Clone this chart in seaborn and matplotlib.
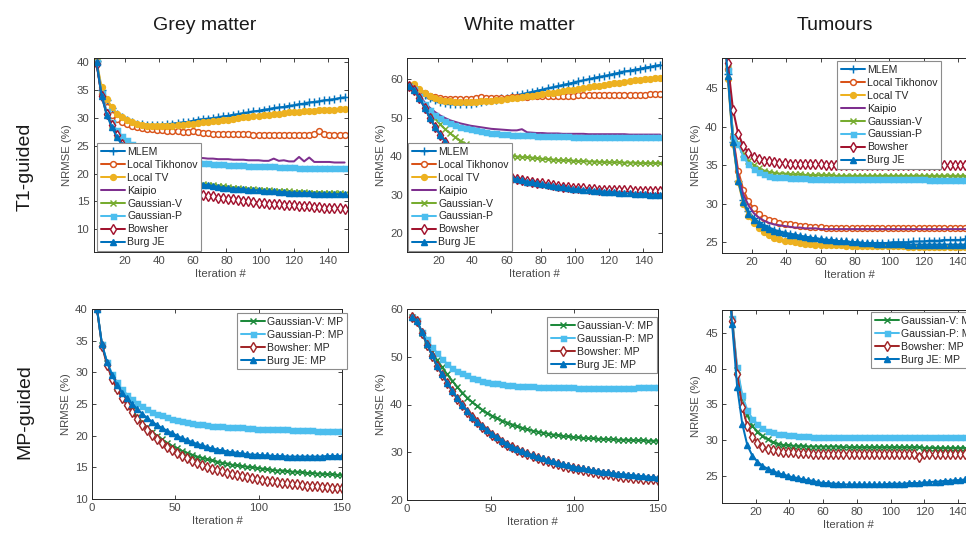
import matplotlib
matplotlib.use("Agg")
import matplotlib.pyplot as plt
import seaborn as sns
import pandas as pd

# ---------------- data ----------------
ITER = list(range(3, 151, 3))

# Grey matter, T1-guided
GM_MLEM = [40.2, 35.0, 33.2, 31.8, 30.8, 30.2, 29.7, 29.3, 29.0, 28.9,
           28.8, 28.8, 28.8, 28.8, 28.9, 29.0, 29.1, 29.2, 29.3, 29.5,
           29.7, 29.8, 29.9, 30.0, 30.1, 30.3, 30.4, 30.6, 30.7, 30.9,
           31.0, 31.2, 31.3, 31.5, 31.6, 31.8, 31.9, 32.0, 32.2, 32.3,
           32.5, 32.6, 32.8, 32.9, 33.0, 33.2, 33.3, 33.4, 33.6, 33.7]
GM_TIK = [40.0, 34.3, 32.0, 30.6, 29.8, 29.2, 28.9, 28.6, 28.4, 28.2,
          28.1, 28.0, 27.9, 27.8, 27.7, 27.6, 27.6, 27.5, 27.5, 27.7,
          27.4, 27.3, 27.3, 27.2, 27.2, 27.2, 27.2, 27.1, 27.1, 27.1,
          27.1, 27.0, 27.0, 27.0, 27.0, 27.0, 27.0, 27.0, 27.0, 27.0,
          27.0, 27.0, 27.0, 27.1, 27.6, 27.1, 27.0, 27.0, 27.0, 27.0]
GM_TV = [40.3, 35.5, 33.5, 32.0, 30.8, 30.1, 29.6, 29.2, 28.9, 28.7,
         28.6, 28.5, 28.5, 28.5, 28.5, 28.6, 28.7, 28.8, 28.9, 29.0,
         29.1, 29.2, 29.3, 29.4, 29.5, 29.6, 29.7, 29.9, 30.0, 30.1,
         30.2, 30.3, 30.4, 30.5, 30.6, 30.7, 30.8, 30.9, 31.0, 31.1,
         31.1, 31.2, 31.3, 31.3, 31.4, 31.4, 31.5, 31.5, 31.6, 31.6]
GM_KAI = [40.0, 34.0, 31.0, 29.0, 27.6, 26.6, 25.9, 25.3, 24.9, 24.5,
          24.2, 23.9, 23.7, 23.5, 23.3, 23.2, 23.1, 23.0, 22.9, 22.9,
          22.8, 22.8, 22.7, 22.7, 22.6, 22.6, 22.6, 22.5, 22.5, 22.5,
          22.4, 22.4, 22.4, 22.3, 22.3, 22.7, 22.3, 22.4, 22.2, 22.2,
          23.0, 22.2, 22.9, 22.1, 22.1, 22.1, 22.1, 22.0, 22.0, 22.0]
GM_GV = [40.0, 34.3, 31.0, 28.8, 27.0, 25.6, 24.4, 23.4, 22.6, 21.9,
         21.3, 20.8, 20.3, 19.9, 19.6, 19.3, 19.0, 18.8, 18.6, 18.4,
         18.3, 18.1, 18.0, 17.9, 17.8, 17.7, 17.6, 17.5, 17.4, 17.3,
         17.2, 17.2, 17.1, 17.0, 17.0, 16.9, 16.9, 16.8, 16.8, 16.7,
         16.7, 16.7, 16.6, 16.6, 16.6, 16.5, 16.5, 16.5, 16.5, 16.4]
GM_GP = [40.0, 34.5, 31.2, 29.2, 27.8, 26.8, 26.0, 25.4, 24.9, 24.5,
         24.1, 23.8, 23.5, 23.3, 23.0, 22.8, 22.7, 22.5, 22.4, 22.2,
         22.1, 22.0, 21.9, 21.8, 21.8, 21.7, 21.6, 21.6, 21.5, 21.5,
         21.4, 21.4, 21.4, 21.3, 21.3, 21.3, 21.2, 21.2, 21.2, 21.2,
         21.1, 21.1, 21.1, 21.1, 21.1, 21.0, 21.0, 21.0, 21.0, 21.0]
GM_BOW = [39.8, 34.0, 30.8, 28.7, 26.9, 25.4, 24.0, 22.8, 21.8, 20.9,
          20.1, 19.4, 18.8, 18.3, 17.8, 17.5, 17.2, 16.9, 16.7, 16.5,
          16.3, 16.1, 16.0, 15.9, 15.7, 15.6, 15.5, 15.4, 15.2, 15.1,
          15.0, 14.9, 14.8, 14.7, 14.6, 14.5, 14.5, 14.4, 14.4, 14.3,
          14.2, 14.2, 14.1, 14.0, 14.0, 13.9, 13.9, 13.8, 13.8, 13.7]
GM_BURG = [40.0, 34.0, 30.6, 28.4, 26.6, 25.2, 24.0, 23.0, 22.2, 21.5,
           20.9, 20.4, 20.0, 19.6, 19.3, 19.0, 18.8, 18.6, 18.4, 18.3,
           18.1, 18.0, 17.9, 17.8, 17.6, 17.5, 17.4, 17.3, 17.3, 17.2,
           17.1, 17.0, 17.0, 16.9, 16.8, 16.8, 16.7, 16.7, 16.6, 16.6,
           16.5, 16.5, 16.5, 16.4, 16.4, 16.4, 16.3, 16.3, 16.3, 16.3]

# White matter, T1-guided
WM_MLEM = [58.3, 57.8, 56.8, 55.8, 55.0, 54.5, 54.1, 53.8, 53.6, 53.5,
           53.5, 53.5, 53.6, 53.8, 54.0, 54.2, 54.5, 54.7, 55.0, 55.2,
           55.5, 55.8, 56.1, 56.4, 56.7, 57.0, 57.3, 57.6, 57.9, 58.2,
           58.5, 58.8, 59.1, 59.4, 59.7, 60.0, 60.3, 60.6, 60.8, 61.1,
           61.4, 61.7, 62.0, 62.2, 62.5, 62.7, 63.0, 63.2, 63.5, 63.7]
WM_TIK = [58.3, 58.0, 57.0, 56.3, 55.7, 55.3, 55.0, 54.9, 54.8, 54.8,
          54.8, 54.9, 54.9, 55.0, 55.3, 55.0, 55.1, 55.1, 55.2, 55.2,
          55.3, 55.3, 55.4, 55.4, 55.5, 55.5, 55.5, 55.6, 55.6, 55.6,
          55.7, 55.7, 55.7, 55.8, 55.8, 55.8, 55.8, 55.9, 55.9, 55.9,
          55.9, 56.0, 56.0, 56.0, 56.0, 56.0, 56.0, 56.1, 56.1, 56.1]
WM_TV = [58.5, 58.7, 57.5, 56.3, 55.5, 55.0, 54.6, 54.4, 54.2, 54.1,
         54.0, 54.0, 54.0, 54.1, 54.2, 54.3, 54.4, 54.6, 54.7, 54.9,
         55.0, 55.2, 55.4, 55.5, 55.7, 55.9, 56.1, 56.3, 56.5, 56.7,
         56.9, 57.1, 57.3, 57.5, 57.7, 57.9, 58.1, 58.3, 58.5, 58.7,
         58.9, 59.1, 59.3, 59.5, 59.7, 59.8, 60.0, 60.1, 60.3, 60.4]
WM_KAI = [58.3, 57.5, 55.8, 54.0, 52.6, 51.5, 50.6, 49.9, 49.3, 48.9,
          48.5, 48.2, 47.9, 47.7, 47.5, 47.3, 47.1, 47.0, 46.9, 46.8,
          46.7, 46.7, 47.0, 46.2, 46.1, 46.0, 46.0, 45.9, 45.9, 45.9,
          45.8, 45.8, 45.8, 45.8, 45.8, 45.7, 45.7, 45.7, 45.7, 45.7,
          45.7, 45.7, 45.7, 45.6, 45.6, 45.6, 45.6, 45.6, 45.6, 45.6]
WM_GV = [58.3, 57.3, 55.2, 53.2, 51.5, 49.8, 48.3, 47.0, 45.9, 44.9,
         44.0, 43.2, 42.6, 42.0, 41.6, 41.2, 40.9, 40.7, 40.5, 40.3,
         40.1, 39.9, 39.8, 39.7, 39.6, 39.4, 39.3, 39.2, 39.1, 39.0,
         38.9, 38.9, 38.8, 38.7, 38.7, 38.6, 38.6, 38.5, 38.5, 38.4,
         38.4, 38.4, 38.3, 38.3, 38.3, 38.2, 38.2, 38.2, 38.2, 38.2]
WM_GP = [58.3, 57.4, 55.5, 53.6, 52.0, 50.8, 49.9, 49.1, 48.5, 48.0,
         47.6, 47.3, 47.0, 46.7, 46.5, 46.3, 46.1, 46.0, 45.8, 45.7,
         45.6, 45.5, 45.5, 45.4, 45.4, 45.3, 45.3, 45.3, 45.2, 45.2,
         45.2, 45.2, 45.1, 45.1, 45.1, 45.1, 45.1, 45.1, 45.0, 45.0,
         45.0, 45.0, 45.0, 45.0, 45.0, 45.0, 45.0, 45.0, 45.0, 45.0]
WM_BOW = [58.3, 57.3, 55.0, 52.6, 50.0, 47.7, 45.6, 43.8, 42.2, 40.9,
          39.8, 38.8, 38.0, 37.3, 36.7, 36.2, 35.7, 35.3, 35.0, 34.7,
          34.4, 34.1, 33.8, 33.6, 33.3, 33.1, 32.9, 32.7, 32.5, 32.3,
          32.1, 32.0, 31.8, 31.7, 31.6, 31.5, 31.4, 31.3, 31.3, 31.2,
          31.2, 31.1, 31.1, 31.1, 31.0, 31.0, 31.0, 31.0, 31.0, 31.0]
WM_BURG = [58.3, 57.2, 55.0, 52.6, 50.0, 47.7, 45.6, 43.8, 42.2, 40.8,
           39.7, 38.7, 37.9, 37.2, 36.6, 36.1, 35.6, 35.2, 34.9, 34.6,
           34.3, 34.0, 33.7, 33.4, 33.2, 32.9, 32.7, 32.5, 32.3, 32.1,
           31.9, 31.7, 31.5, 31.4, 31.2, 31.1, 31.0, 30.9, 30.8, 30.7,
           30.6, 30.5, 30.4, 30.3, 30.2, 30.2, 30.1, 30.0, 30.0, 29.9]

# Tumours, T1-guided
TU_MLEM = [55.0, 46.8, 38.0, 33.0, 30.5, 29.0, 28.2, 27.6, 27.2, 26.9,
           26.6, 26.4, 26.2, 26.1, 26.0, 25.8, 25.7, 25.6, 25.5, 25.4,
           25.3, 25.3, 25.2, 25.1, 25.1, 25.0, 25.0, 24.9, 24.9, 24.9,
           24.9, 24.9, 24.9, 25.0, 25.0, 25.0, 25.0, 25.1, 25.1, 25.1,
           25.2, 25.2, 25.2, 25.3, 25.3, 25.3, 25.3, 25.4, 25.4, 25.4]
TU_TIK = [55.0, 47.5, 38.7, 34.3, 31.8, 30.3, 29.4, 28.7, 28.2, 27.9,
          27.7, 27.5, 27.4, 27.3, 27.2, 27.1, 27.1, 27.0, 27.0, 27.0,
          26.9, 26.9, 26.9, 26.9, 26.9, 26.8, 26.8, 26.8, 26.8, 26.8,
          26.8, 26.8, 26.8, 26.8, 26.8, 26.8, 26.8, 26.8, 26.8, 26.8,
          26.8, 26.8, 26.8, 26.8, 26.8, 26.8, 26.8, 26.8, 26.8, 26.8]
TU_TV = [55.0, 46.2, 37.8, 32.8, 30.0, 28.4, 27.5, 26.8, 26.3, 25.9,
         25.6, 25.4, 25.2, 25.1, 25.0, 24.9, 24.8, 24.8, 24.7, 24.7,
         24.6, 24.6, 24.6, 24.6, 24.5, 24.5, 24.5, 24.5, 24.5, 24.5,
         24.5, 24.5, 24.5, 24.5, 24.5, 24.5, 24.4, 24.4, 24.4, 24.4,
         24.4, 24.4, 24.4, 24.4, 24.4, 24.4, 24.4, 24.4, 24.4, 24.4]
TU_KAI = [55.0, 47.0, 38.5, 33.8, 31.2, 29.8, 28.8, 28.2, 27.8, 27.5,
          27.3, 27.2, 27.1, 27.0, 26.9, 26.9, 26.8, 26.8, 26.8, 26.7,
          26.7, 26.7, 26.7, 26.7, 26.7, 26.7, 26.7, 26.7, 26.7, 26.7,
          26.7, 26.7, 26.7, 26.7, 26.7, 26.7, 26.7, 26.7, 26.7, 26.7,
          26.7, 26.7, 26.7, 26.7, 26.7, 26.7, 26.7, 26.7, 26.7, 26.7]
TU_GV = [55.0, 47.6, 38.8, 37.9, 36.5, 35.6, 35.0, 34.6, 34.3, 34.1,
         34.0, 33.9, 33.9, 33.8, 33.8, 33.8, 33.7, 33.7, 33.7, 33.7,
         33.7, 33.7, 33.6, 33.6, 33.6, 33.6, 33.6, 33.6, 33.6, 33.6,
         33.6, 33.6, 33.6, 33.6, 33.6, 33.6, 33.6, 33.6, 33.6, 33.6,
         33.6, 33.6, 33.6, 33.6, 33.6, 33.6, 33.6, 33.6, 33.6, 33.6]
TU_GP = [55.0, 47.4, 38.6, 37.7, 36.1, 35.1, 34.5, 34.1, 33.8, 33.6,
         33.5, 33.4, 33.4, 33.3, 33.3, 33.3, 33.3, 33.2, 33.2, 33.2,
         33.2, 33.2, 33.2, 33.2, 33.2, 33.2, 33.2, 33.2, 33.2, 33.2,
         33.2, 33.2, 33.2, 33.2, 33.2, 33.2, 33.2, 33.2, 33.2, 33.2,
         33.1, 33.1, 33.1, 33.1, 33.1, 33.1, 33.1, 33.1, 33.1, 33.1]
TU_BOW = [55.0, 48.2, 42.2, 39.1, 37.5, 36.6, 36.1, 35.8, 35.6, 35.5,
          35.4, 35.3, 35.3, 35.2, 35.2, 35.2, 35.1, 35.1, 35.1, 35.1,
          35.0, 35.0, 35.0, 35.0, 35.0, 35.0, 35.0, 35.0, 35.0, 35.0,
          35.0, 35.0, 35.0, 35.0, 35.0, 35.0, 35.0, 35.0, 35.0, 35.0,
          35.0, 35.0, 35.0, 35.0, 35.0, 35.0, 35.0, 35.0, 35.0, 35.0]
TU_BURG = [55.0, 46.5, 38.0, 33.0, 30.2, 28.7, 27.9, 27.4, 27.0, 26.7,
           26.5, 26.3, 26.2, 26.0, 25.9, 25.8, 25.7, 25.6, 25.5, 25.4,
           25.3, 25.3, 25.2, 25.1, 25.1, 25.0, 25.0, 24.9, 24.9, 24.9,
           24.8, 24.8, 24.8, 24.8, 24.8, 24.8, 24.7, 24.7, 24.7, 24.7,
           24.7, 24.7, 24.7, 24.7, 24.7, 24.7, 24.7, 24.7, 24.7, 24.7]

# Grey matter, MP-guided
GMP_GV = [40.0, 34.3, 31.5, 29.4, 27.6, 26.2, 25.1, 24.0, 23.0, 22.1,
          21.3, 20.6, 20.0, 19.4, 18.9, 18.4, 18.0, 17.6, 17.3, 17.0,
          16.7, 16.5, 16.3, 16.1, 15.9, 15.7, 15.6, 15.4, 15.3, 15.2,
          15.1, 15.0, 14.9, 14.8, 14.7, 14.6, 14.5, 14.5, 14.4, 14.3,
          14.3, 14.2, 14.1, 14.1, 14.0, 14.0, 13.9, 13.9, 13.8, 13.8]
GMP_GP = [40.0, 34.4, 31.7, 29.8, 28.4, 27.3, 26.5, 25.8, 25.2, 24.7,
          24.2, 23.8, 23.5, 23.2, 22.9, 22.7, 22.5, 22.3, 22.1, 22.0,
          21.9, 21.8, 21.7, 21.6, 21.5, 21.5, 21.4, 21.4, 21.3, 21.3,
          21.2, 21.2, 21.1, 21.1, 21.1, 21.0, 21.0, 21.0, 21.0, 20.9,
          20.9, 20.9, 20.9, 20.9, 20.8, 20.8, 20.8, 20.8, 20.7, 20.7]
GMP_BOW = [40.0, 34.2, 31.2, 29.0, 27.4, 26.0, 24.8, 23.7, 22.6, 21.7,
           20.9, 20.1, 19.4, 18.8, 18.2, 17.7, 17.2, 16.8, 16.4, 16.0,
           15.7, 15.4, 15.1, 14.8, 14.6, 14.4, 14.1, 13.9, 13.8, 13.6,
           13.4, 13.3, 13.1, 13.0, 12.9, 12.8, 12.7, 12.6, 12.5, 12.4,
           12.3, 12.2, 12.1, 12.1, 12.0, 11.9, 11.9, 11.8, 11.8, 11.7]
GMP_BURG = [40.0, 34.4, 31.6, 29.6, 28.0, 26.8, 25.9, 25.0, 24.2, 23.5,
            22.8, 22.2, 21.7, 21.2, 20.8, 20.4, 20.0, 19.6, 19.3, 19.0,
            18.7, 18.5, 18.2, 18.0, 17.8, 17.7, 17.5, 17.4, 17.3, 17.2,
            17.1, 17.0, 17.0, 16.9, 16.9, 16.8, 16.8, 16.8, 16.7, 16.7,
            16.7, 16.7, 16.7, 16.7, 16.7, 16.7, 16.8, 16.8, 16.8, 16.8]

# White matter, MP-guided
WMP_GV = [58.3, 57.5, 55.0, 52.5, 51.0, 49.3, 47.8, 46.3, 45.0, 43.7,
          42.5, 41.4, 40.5, 39.7, 38.9, 38.2, 37.6, 37.1, 36.6, 36.2,
          35.8, 35.4, 35.1, 34.8, 34.5, 34.3, 34.1, 33.9, 33.7, 33.6,
          33.4, 33.3, 33.2, 33.1, 33.0, 32.9, 32.9, 32.8, 32.8, 32.7,
          32.7, 32.6, 32.6, 32.6, 32.5, 32.5, 32.5, 32.4, 32.4, 32.4]
WMP_GP = [58.3, 57.6, 55.2, 53.8, 52.0, 50.8, 49.5, 48.5, 47.7, 47.1,
          46.6, 46.1, 45.6, 45.3, 45.0, 44.8, 44.6, 44.4, 44.3, 44.1,
          44.0, 43.9, 43.9, 43.8, 43.8, 43.7, 43.7, 43.7, 43.6, 43.6,
          43.6, 43.6, 43.6, 43.5, 43.5, 43.5, 43.5, 43.5, 43.5, 43.5,
          43.5, 43.5, 43.5, 43.5, 43.5, 43.6, 43.6, 43.6, 43.6, 43.6]
WMP_BOW = [58.3, 57.5, 55.0, 52.5, 50.2, 48.0, 46.2, 44.5, 42.8, 41.2,
           39.8, 38.5, 37.3, 36.3, 35.3, 34.4, 33.6, 32.9, 32.2, 31.6,
           31.0, 30.5, 30.0, 29.6, 29.2, 28.8, 28.4, 28.1, 27.8, 27.5,
           27.2, 27.0, 26.7, 26.5, 26.3, 26.1, 25.9, 25.7, 25.5, 25.4,
           25.2, 25.1, 24.9, 24.8, 24.7, 24.6, 24.5, 24.4, 24.3, 24.2]
WMP_BURG = [58.3, 57.5, 55.1, 52.6, 50.3, 48.1, 46.3, 44.6, 42.9, 41.3,
            39.9, 38.6, 37.4, 36.4, 35.4, 34.6, 33.8, 33.1, 32.4, 31.8,
            31.2, 30.7, 30.2, 29.8, 29.4, 29.0, 28.7, 28.4, 28.1, 27.8,
            27.5, 27.3, 27.0, 26.8, 26.6, 26.4, 26.2, 26.1, 25.9, 25.8,
            25.6, 25.5, 25.4, 25.3, 25.2, 25.1, 25.0, 24.9, 24.8, 24.7]

# Tumours, MP-guided
TUP_GV = [56.0, 47.0, 39.8, 36.0, 33.5, 32.0, 31.2, 30.6, 30.1, 29.7,
          29.5, 29.3, 29.3, 29.2, 29.2, 29.2, 29.1, 29.1, 29.1, 29.1,
          29.1, 29.1, 29.1, 29.0, 29.0, 29.0, 29.0, 29.0, 29.0, 29.0,
          29.0, 29.0, 29.0, 29.0, 29.0, 29.0, 29.0, 29.0, 29.0, 28.9,
          28.9, 28.9, 28.9, 28.9, 28.9, 28.9, 28.9, 28.9, 28.9, 28.9]
TUP_GP = [56.0, 47.1, 40.2, 36.3, 34.2, 33.0, 32.2, 31.7, 31.3, 31.1,
          30.9, 30.8, 30.7, 30.7, 30.6, 30.6, 30.6, 30.5, 30.5, 30.5,
          30.5, 30.5, 30.5, 30.4, 30.4, 30.4, 30.4, 30.4, 30.4, 30.4,
          30.4, 30.4, 30.4, 30.4, 30.4, 30.4, 30.4, 30.4, 30.4, 30.4,
          30.4, 30.4, 30.4, 30.4, 30.4, 30.4, 30.4, 30.4, 30.4, 30.4]
TUP_BOW = [56.0, 46.7, 39.2, 34.7, 32.0, 30.5, 29.6, 29.1, 28.8, 28.6,
           28.5, 28.4, 28.3, 28.3, 28.2, 28.2, 28.2, 28.1, 28.1, 28.1,
           28.1, 28.1, 28.1, 28.1, 28.1, 28.1, 28.1, 28.1, 28.1, 28.1,
           28.1, 28.1, 28.1, 28.0, 28.0, 28.0, 28.0, 28.0, 27.6, 28.0,
           28.0, 28.0, 28.0, 28.0, 28.0, 28.0, 28.0, 28.0, 28.0, 28.0]
TUP_BURG = [56.0, 46.2, 37.4, 32.3, 29.3, 27.8, 27.0, 26.4, 26.0, 25.7,
            25.4, 25.2, 25.0, 24.8, 24.7, 24.5, 24.4, 24.3, 24.1, 24.0,
            24.0, 23.9, 23.9, 23.8, 23.8, 23.8, 23.8, 23.8, 23.8, 23.8,
            23.8, 23.8, 23.9, 23.9, 23.9, 23.9, 24.0, 24.0, 24.0, 24.1,
            24.1, 24.2, 24.2, 24.3, 24.3, 24.4, 24.4, 24.5, 24.5, 24.6]

T1_METHODS = ["MLEM", "Local Tikhonov", "Local TV", "Kaipio",
              "Gaussian-V", "Gaussian-P", "Bowsher", "Burg JE"]
MP_METHODS = ["Gaussian-V: MP", "Gaussian-P: MP", "Bowsher: MP", "Burg JE: MP"]
COLUMN_TITLES = ["Grey matter", "White matter", "Tumours"]
ROW_TITLES = ["T1-guided", "MP-guided"]

T1_DATA = [
    [GM_MLEM, GM_TIK, GM_TV, GM_KAI, GM_GV, GM_GP, GM_BOW, GM_BURG],
    [WM_MLEM, WM_TIK, WM_TV, WM_KAI, WM_GV, WM_GP, WM_BOW, WM_BURG],
    [TU_MLEM, TU_TIK, TU_TV, TU_KAI, TU_GV, TU_GP, TU_BOW, TU_BURG],
]
MP_DATA = [
    [GMP_GV, GMP_GP, GMP_BOW, GMP_BURG],
    [WMP_GV, WMP_GP, WMP_BOW, WMP_BURG],
    [TUP_GV, TUP_GP, TUP_BOW, TUP_BURG],
]

# ---------------- styles ----------------
STYLE = {
    "MLEM": dict(color="#0072BD", marker="+", ms=5.5, fill=True),
    "Local Tikhonov": dict(color="#D95319", marker="o", ms=4.2, fill=False),
    "Local TV": dict(color="#EDB120", marker="o", ms=4.2, fill=True),
    "Kaipio": dict(color="#7E2F8E", marker=None, ms=0, fill=True),
    "Gaussian-V": dict(color="#77AC30", marker="x", ms=3.8, fill=True),
    "Gaussian-P": dict(color="#4DBEEE", marker="s", ms=3.6, fill=True),
    "Bowsher": dict(color="#A2142F", marker="d", ms=4.6, fill=False),
    "Burg JE": dict(color="#0072BD", marker="^", ms=4.2, fill=True),
    "Gaussian-V: MP": dict(color="#1E8A3C", marker="x", ms=3.8, fill=True),
    "Gaussian-P: MP": dict(color="#4DBEEE", marker="s", ms=3.6, fill=True),
    "Bowsher: MP": dict(color="#A2282A", marker="d", ms=4.6, fill=False),
    "Burg JE: MP": dict(color="#0072BD", marker="^", ms=4.2, fill=True),
}

sns.set_style("ticks")
plt.rcParams["font.family"] = ["Liberation Sans", "DejaVu Sans"]
plt.rcParams["xtick.direction"] = "in"
plt.rcParams["ytick.direction"] = "in"

W, H = 966, 536
fig = plt.figure(figsize=(W / 100, H / 100), dpi=100)

def fx(px):
    return px / W

def fy(py):
    return 1 - py / H

# axes rectangles in pixels: (left, right, top, bottom)
RECTS = [
    [(93.5, 348, 58, 252), (407, 662, 58, 252), (722, 977, 58, 253)],
    [(92, 342, 309, 499), (407, 658, 309, 500), (722, 975, 310, 503)],
]
XLIMS = [[(1.2, 152), (1.7, 151), (2.6, 151)], [(0, 150), (0, 150), (0, 150)]]
YLIMS = [[(5.9, 40.8), (15.1, 65.5), (23.6, 48.9)], [(10, 40), (20, 60), (21.2, 48.2)]]
YTICKS = [[[10, 15, 20, 25, 30, 35, 40], [20, 30, 40, 50, 60], [25, 30, 35, 40, 45]],
          [[10, 15, 20, 25, 30, 35, 40], [20, 30, 40, 50, 60], [25, 30, 35, 40, 45]]]
XTICKS = [[[20, 40, 60, 80, 100, 120, 140]] * 3,
          [[0, 50, 100, 150], [0, 50, 100, 150], [20, 40, 60, 80, 100, 120, 140]]]
# legend upper-left corner in pixels
LEG = [[(97, 143), (408, 143), (837, 61)], [(237, 313), (547, 317), (871, 312)]]

TXT = "#262626"
TICK_TXT = "#4a4a4a"

for r in range(2):
    methods = T1_METHODS if r == 0 else MP_METHODS
    data = T1_DATA if r == 0 else MP_DATA
    for c in range(3):
        l, rgt, t, b = RECTS[r][c]
        ax = fig.add_axes([fx(l), fy(b), (rgt - l) / W, (b - t) / H])
        rows = []
        for m, vals in zip(methods, data[c]):
            for it, v in zip(ITER, vals):
                rows.append({"Iteration": it, "NRMSE": v, "Method": m})
        df = pd.DataFrame(rows)
        for m in methods:
            st = STYLE[m]
            sub = df[df["Method"] == m]
            kw = dict(color=st["color"], linewidth=1.45, label=m)
            if st["marker"] is not None:
                kw.update(marker=st["marker"], markersize=st["ms"],
                          markeredgecolor=st["color"], markeredgewidth=1.05,
                          markerfacecolor=st["color"] if st["fill"] else "white")
            sns.lineplot(data=sub, x="Iteration", y="NRMSE", ax=ax,
                         errorbar=None, sort=False, **kw)
        ax.set_xlim(*XLIMS[r][c])
        ax.set_ylim(*YLIMS[r][c])
        ax.set_xticks(XTICKS[r][c])
        ax.set_yticks(YTICKS[r][c])
        ax.tick_params(axis="both", which="both", top=True, right=True,
                       length=3, width=0.6, color=TXT, labelsize=8.2,
                       labelcolor=TICK_TXT, pad=3)
        for sp in ax.spines.values():
            sp.set_linewidth(0.7)
            sp.set_color(TXT)
        ax.set_xlabel("Iteration #", fontsize=8.2, color=TICK_TXT, labelpad=2)
        ax.set_ylabel("NRMSE (%)", fontsize=8.2, color=TICK_TXT, labelpad=3)
        h, lab = ax.get_legend_handles_labels()
        lx, ly = LEG[r][c]
        leg = ax.legend(h, lab, loc="upper left",
                        bbox_to_anchor=(fx(lx), fy(ly)),
                        bbox_transform=fig.transFigure,
                        fontsize=7.6, frameon=True, fancybox=False,
                        framealpha=1, edgecolor="#8c8c8c",
                        handlelength=2.3, handletextpad=0.2,
                        labelspacing=0.28, borderpad=0.35, borderaxespad=0)
        leg.get_frame().set_linewidth(0.8)
        for txt in leg.get_texts():
            txt.set_color(TXT)

# column titles
for x_px, title in zip([205, 519, 835], COLUMN_TITLES):
    fig.text(fx(x_px), fy(25), title, ha="center", va="center",
             fontsize=14, color="#1a1a1a")
# row titles
for y_px, title in zip([167, 412], ROW_TITLES):
    fig.text(fx(25), fy(y_px), title, ha="center", va="center",
             rotation=90, fontsize=14, color="#1a1a1a")

fig.savefig("out.png", dpi=100)
